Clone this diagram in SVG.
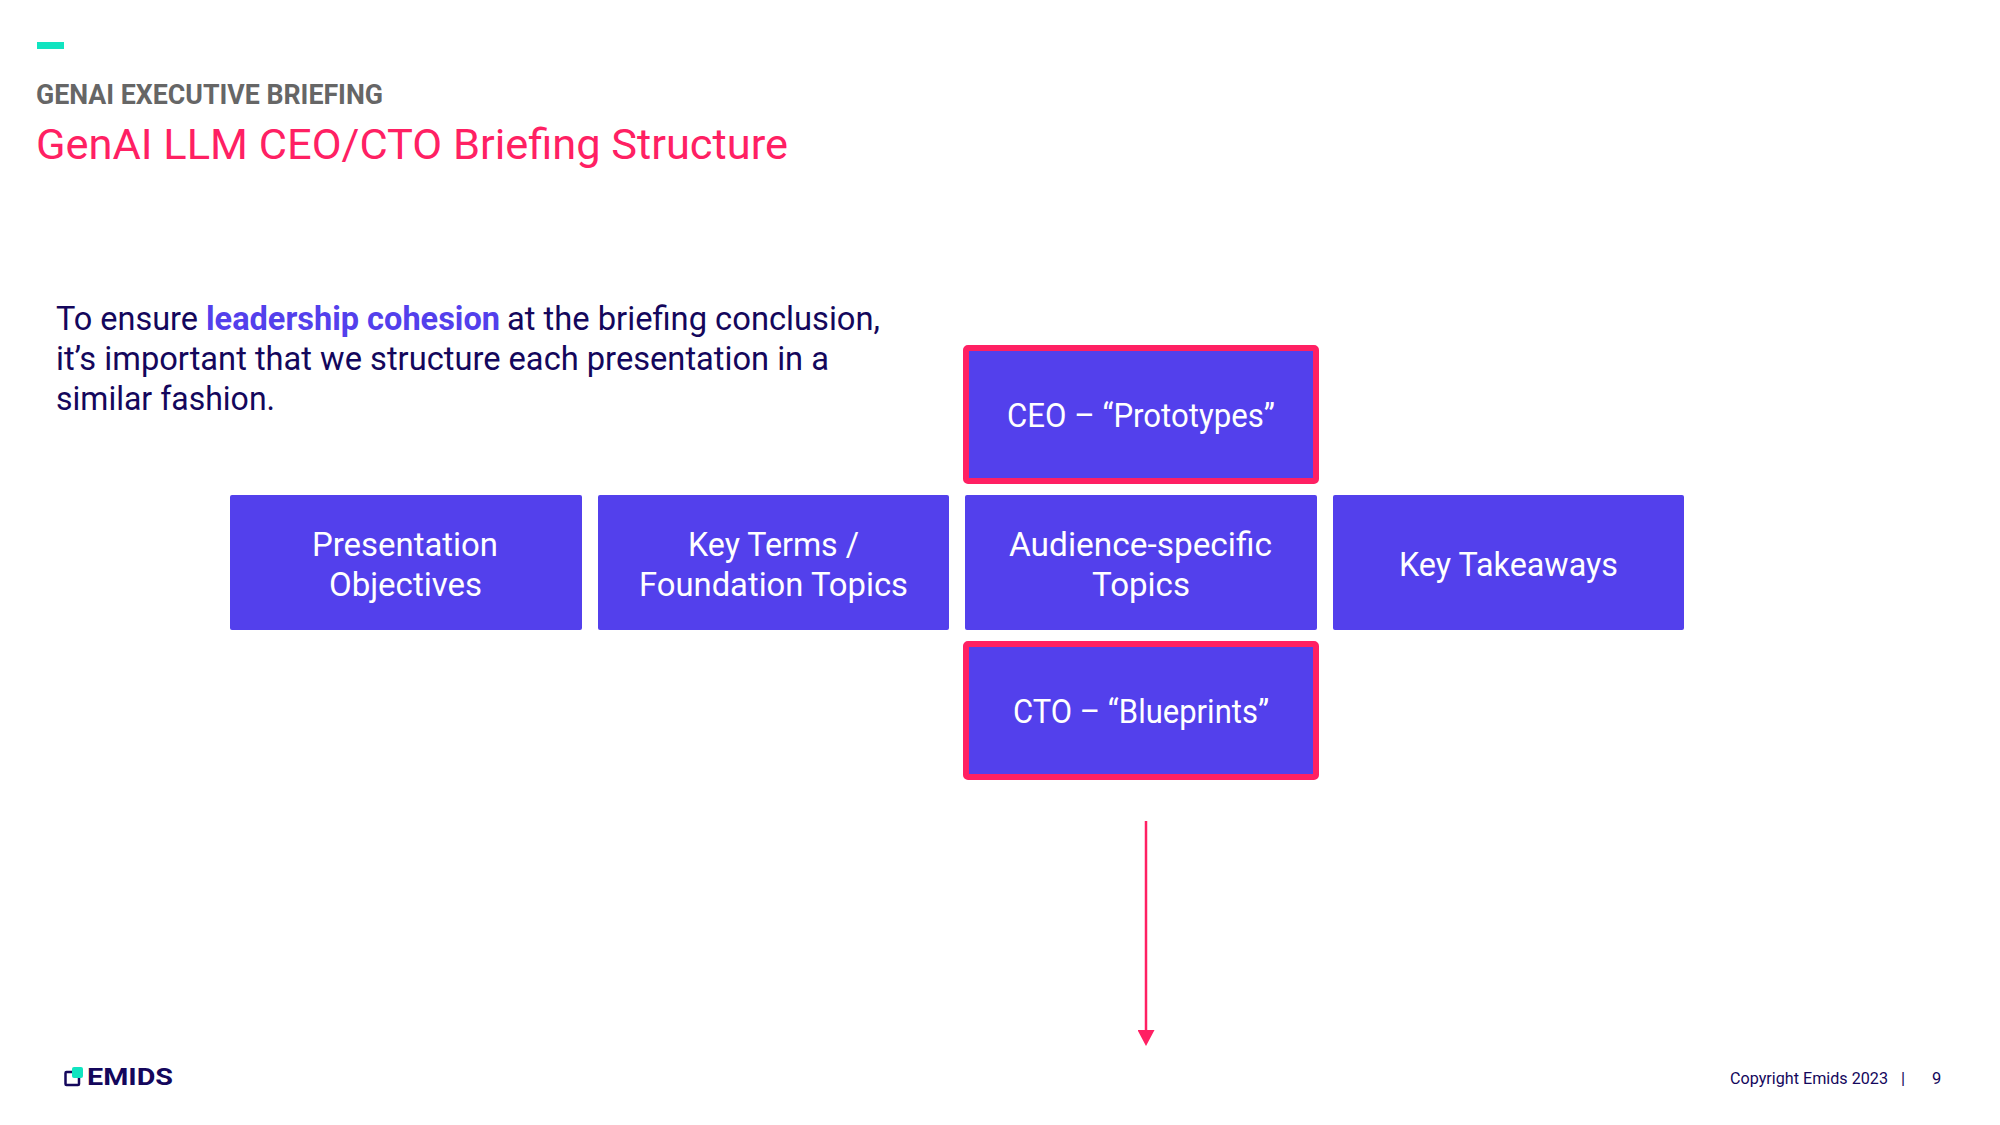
<svg xmlns="http://www.w3.org/2000/svg" width="2000" height="1125" viewBox="0 0 2000 1125">
<style>
text{font-family:"Roboto","Liberation Sans",sans-serif}
.box{fill:#5340ec}
.hl{fill:#5340ec;stroke:#ff2063;stroke-width:6}
.lb{fill:#fff;font-size:33px}
.body{fill:#14075c;font-size:33px}
.foot{fill:#14075c;font-size:16.5px}
.conn{stroke:#ff2063;stroke-width:2.5;fill:none}
</style>
<defs>
<marker id="arrow" markerUnits="userSpaceOnUse" markerWidth="16" markerHeight="17" refX="0" refY="8.5" orient="auto"><path d="M0 0L16 8.5L0 17Z" fill="#ff2063"/></marker>
</defs>
<rect width="2000" height="1125" fill="#fff"/>
<g id="header">
<rect x="37" y="42" width="27" height="7" fill="#10e4c0"/>
<text x="36" y="104" font-size="27" font-weight="700" fill="#666" textLength="347" lengthAdjust="spacingAndGlyphs">GENAI EXECUTIVE BRIEFING</text>
<text x="36" y="159" font-size="43" fill="#ff2063" textLength="752" lengthAdjust="spacingAndGlyphs">GenAI LLM CEO/CTO Briefing Structure</text>
</g>
<g id="intro" class="body">
<text class="body" x="56" y="330" textLength="142" lengthAdjust="spacingAndGlyphs">To ensure</text>
<text class="body" x="206" y="330" font-weight="700" style="fill:#5340ec" textLength="294" lengthAdjust="spacingAndGlyphs">leadership cohesion</text>
<text class="body" x="507" y="330" textLength="373" lengthAdjust="spacingAndGlyphs">at the briefing conclusion,</text>
<text class="body" x="56" y="370" textLength="773" lengthAdjust="spacingAndGlyphs">it’s important that we structure each presentation in a</text>
<text class="body" x="56" y="410" textLength="219" lengthAdjust="spacingAndGlyphs">similar fashion.</text>
</g>
<g id="node-ceo"><rect class="hl" x="966" y="348" width="350" height="133" rx="2"/>
<text class="lb" x="1007" y="427" textLength="268" lengthAdjust="spacingAndGlyphs">CEO – “Prototypes”</text></g>
<g id="node-objectives"><rect class="box" x="230" y="495" width="352" height="135" rx="2"/>
<text class="lb" x="312" y="556" textLength="186" lengthAdjust="spacingAndGlyphs">Presentation</text>
<text class="lb" x="329" y="596" textLength="153" lengthAdjust="spacingAndGlyphs">Objectives</text></g>
<g id="node-terms"><rect class="box" x="598" y="495" width="351" height="135" rx="2"/>
<text class="lb" x="688" y="556" textLength="171" lengthAdjust="spacingAndGlyphs">Key Terms /</text>
<text class="lb" x="639" y="596" textLength="269" lengthAdjust="spacingAndGlyphs">Foundation Topics</text></g>
<g id="node-audience"><rect class="box" x="965" y="495" width="352" height="135" rx="2"/>
<text class="lb" x="1009" y="556" textLength="263" lengthAdjust="spacingAndGlyphs">Audience-specific</text>
<text class="lb" x="1092" y="596" textLength="98" lengthAdjust="spacingAndGlyphs">Topics</text></g>
<g id="node-takeaways"><rect class="box" x="1333" y="495" width="351" height="135" rx="2"/>
<text class="lb" x="1399" y="576" textLength="219" lengthAdjust="spacingAndGlyphs">Key Takeaways</text></g>
<g id="node-cto"><rect class="hl" x="966" y="644" width="350" height="133" rx="2"/>
<text class="lb" x="1013" y="723" textLength="256" lengthAdjust="spacingAndGlyphs">CTO – “Blueprints”</text></g>
<g id="connectors"><line class="conn" x1="1146" y1="821" x2="1146" y2="1030" marker-end="url(#arrow)"/></g>
<g id="logo">
<rect x="65.5" y="1072" width="13.5" height="13" fill="none" stroke="#14075c" stroke-width="2.5" rx="1"/>
<rect x="72" y="1067" width="11" height="11" rx="2" fill="#10e4c0"/>
<text x="87" y="1085" font-size="24" font-weight="700" fill="#14075c" textLength="86" lengthAdjust="spacingAndGlyphs">EMIDS</text>
</g>
<g id="footer">
<text class="foot" x="1730" y="1084" textLength="158" lengthAdjust="spacingAndGlyphs">Copyright Emids 2023</text>
<text class="foot" x="1901" y="1084">|</text>
<text class="foot" x="1932" y="1084">9</text>
</g>
</svg>
